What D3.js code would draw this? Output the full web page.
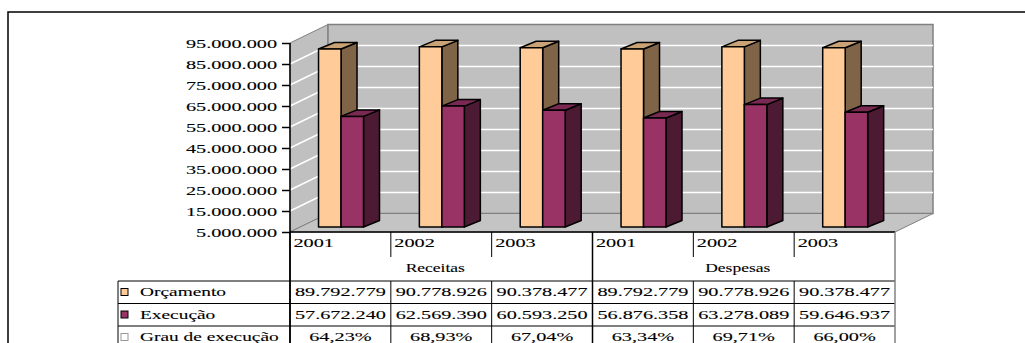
<!DOCTYPE html>
<html>
<head>
<meta charset="utf-8">
<script src="https://cdn.jsdelivr.net/npm/d3@7"></script>
<style>
  body { margin: 0; background: #fff; }
</style>
</head>
<body>
<div id="chart"></div>
<script>
// data
var groups = ["Receitas", "Despesas"];
var years = ["2001", "2002", "2003"];
var orcamento = [89792779, 90778926, 90378477, 89792779, 90778926, 90378477];
var execucao = [57672240, 62569390, 60593250, 56876358, 63278089, 59646937];
var grau = ["64,23%", "68,93%", "67,04%", "63,34%", "69,71%", "66,00%"];
var tickValues = [5000000, 15000000, 25000000, 35000000, 45000000, 55000000, 65000000, 75000000, 85000000, 95000000];
var seriesNames = ["Orçamento", "Execução", "Grau de execução"];

var FONT = "'Liberation Serif', 'Times New Roman', serif";
var W = 1025, H = 343;
var svg = d3.select("#chart").append("svg")
  .attr("width", W).attr("height", H);

var pt = d3.formatLocale({decimal: ",", thousands: ".", grouping: [3], currency: ["", ""]});
var fmt = pt.format(",d");

// outer frame
svg.append("rect")
  .attr("x", 8).attr("y", 12).attr("width", 1040).attr("height", 360)
  .attr("fill", "none").attr("stroke", "#000").attr("stroke-width", 1.5);

var cats = d3.range(6);
var x = d3.scaleBand().domain(cats).range([290, 895]);
var y = d3.scaleLinear().domain([5000000, 95000000]).range([232, 43]);
var bw = x.bandwidth();
var DX = 38, DY = -18.5;        // depth of walls
var bdx = 16, bdy = -6.5;       // depth of a bar
var bshift = -5;                // bars sit a little behind the front edge

var gray = "#c0c0c0", edge = "#808080";

// left wall
svg.append("path")
  .attr("d", "M290," + y(95e6) + "L" + (290 + DX) + "," + (y(95e6) + DY) +
    "L" + (290 + DX) + "," + (y(5e6) + DY) + "L290," + y(5e6) + "Z")
  .attr("fill", gray).attr("stroke", edge).attr("stroke-width", 1);
// back wall
svg.append("rect")
  .attr("x", 290 + DX).attr("y", y(95e6) + DY)
  .attr("width", 895 - 290).attr("height", y(5e6) - y(95e6))
  .attr("fill", gray).attr("stroke", edge).attr("stroke-width", 1.5);
// floor
svg.append("path")
  .attr("d", "M290," + y(5e6) + "L895," + y(5e6) + "L" + (895 + DX) + "," + (y(5e6) + DY) +
    "L" + (290 + DX) + "," + (y(5e6) + DY) + "Z")
  .attr("fill", "#c4c4c4").attr("stroke", edge).attr("stroke-width", 1);

// gridlines on walls
var inner = tickValues.slice(1, -1);
svg.append("g").selectAll("path").data(inner).enter().append("path")
  .attr("d", function(v) {
    return "M290," + y(v) + "L" + (290 + DX) + "," + (y(v) + DY) + "L" + (895 + DX) + "," + (y(v) + DY);
  })
  .attr("fill", "none").attr("stroke", "#fff").attr("stroke-width", 1.5);

// y axis
var axis = svg.append("g").attr("transform", "translate(290,0)")
  .call(d3.axisLeft(y).tickValues(tickValues).tickSize(8).tickFormat(fmt));
axis.attr("font-family", null).attr("font-size", null);
axis.select(".domain").remove();
axis.selectAll(".tick line").attr("stroke", "#000").attr("stroke-width", 1.5);
axis.selectAll(".tick text")
  .attr("x", 0).attr("dy", "0.33em").attr("fill", "#000")
  .attr("stroke", "#000").attr("stroke-width", 0.1)
  .attr("transform", "translate(-13,0) scale(1.62,1)")
  .style("font-size", "12.5px").style("font-family", FONT);
svg.append("line").attr("x1", 290).attr("x2", 290).attr("y1", y(95e6)).attr("y2", H)
  .attr("stroke", "#000").attr("stroke-width", 1.5);

// bars
var series = [
  {vals: orcamento, front: "#ffcc99", top: "#c9a275", side: "#7f6448", off: 0},
  {vals: execucao, front: "#993366", top: "#7a2a52", side: "#4d1a33", off: 1}
];
var barW = bw * 0.223, barL = bw * 0.283;
var bars = svg.append("g");
cats.forEach(function(i) {
  series.forEach(function(s) {
    var x0 = x(i) + barL + s.off * barW, x1 = x0 + barW;
    var y0 = y(5e6) + bshift, y1 = y(s.vals[i]) + bshift;
    var g = bars.append("g").attr("stroke", "#000").attr("stroke-width", 1.5).attr("stroke-linejoin", "round");
    g.append("path").attr("fill", s.side)
      .attr("d", "M" + x1 + "," + y1 + "L" + (x1 + bdx) + "," + (y1 + bdy) + "L" + (x1 + bdx) + "," + (y0 + bdy) + "L" + x1 + "," + y0 + "Z");
    g.append("path").attr("fill", s.top)
      .attr("d", "M" + x0 + "," + y1 + "L" + (x0 + bdx) + "," + (y1 + bdy) + "L" + (x1 + bdx) + "," + (y1 + bdy) + "L" + x1 + "," + y1 + "Z");
    g.append("rect").attr("fill", s.front)
      .attr("x", x0).attr("y", y1).attr("width", barW).attr("height", y0 - y1);
  });
});

// data table
var tbl = svg.append("g").attr("stroke", "#000").attr("stroke-width", 1);
tbl.append("line").attr("x1", 290).attr("x2", 895).attr("y1", 232).attr("y2", 232).attr("stroke", "#000").attr("stroke-width", 1.5);
var rowLines = [281, 303.5, 326];
rowLines.forEach(function(yy) {
  tbl.append("line").attr("x1", 118).attr("x2", 895).attr("y1", yy).attr("y2", yy);
});
tbl.append("line").attr("x1", 118).attr("x2", 118).attr("y1", 281).attr("y2", H);
d3.range(7).forEach(function(k) {
  var xx = 290 + k * bw;
  if (k % 3 === 0) {
    tbl.append("line").attr("x1", xx).attr("x2", xx).attr("y1", 232).attr("y2", H)
      .attr("stroke", k === 6 ? "#808080" : "#000").attr("stroke-width", 1.5);
  } else {
    tbl.append("line").attr("x1", xx).attr("x2", xx).attr("y1", 232).attr("y2", 257);
    tbl.append("line").attr("x1", xx).attr("x2", xx).attr("y1", 281).attr("y2", H);
  }
});

function stxt(px, py, str, anchor, sx) {
  return svg.append("text")
    .attr("transform", "translate(" + px + "," + py + ") scale(" + sx + ",1)")
    .attr("text-anchor", anchor)
    .attr("fill", "#000")
    .attr("stroke", "#000").attr("stroke-width", 0.1)
    .style("font-family", FONT)
    .style("font-size", "12.5px")
    .text(str);
}

cats.forEach(function(i) {
  stxt(x(i) + 3.5, 247, years[i % 3], "start", 1.62);
});
groups.forEach(function(gname, j) {
  stxt(x(j * 3) + bw * 1.5 - 6, 272, gname, "middle", 1.4);
});

var rowsY = [296, 318.5, 341];
var rowVals = [orcamento.map(fmt), execucao.map(fmt), grau];
var keyFill = ["#ffcc99", "#993366", "#fff"];
var keyStroke = ["#000", "#000", "#999"];
rowsY.forEach(function(by, r) {
  svg.append("rect").attr("x", 121).attr("y", by - 7.5).attr("width", 7).attr("height", 7)
    .attr("fill", keyFill[r]).attr("stroke", keyStroke[r]).attr("stroke-width", 1);
  stxt(140, by, seriesNames[r], "start", 1.55);
  cats.forEach(function(i) {
    stxt(x(i) + bw / 2, by, rowVals[r][i], "middle", 1.62);
  });
});
</script>
</body>
</html>
